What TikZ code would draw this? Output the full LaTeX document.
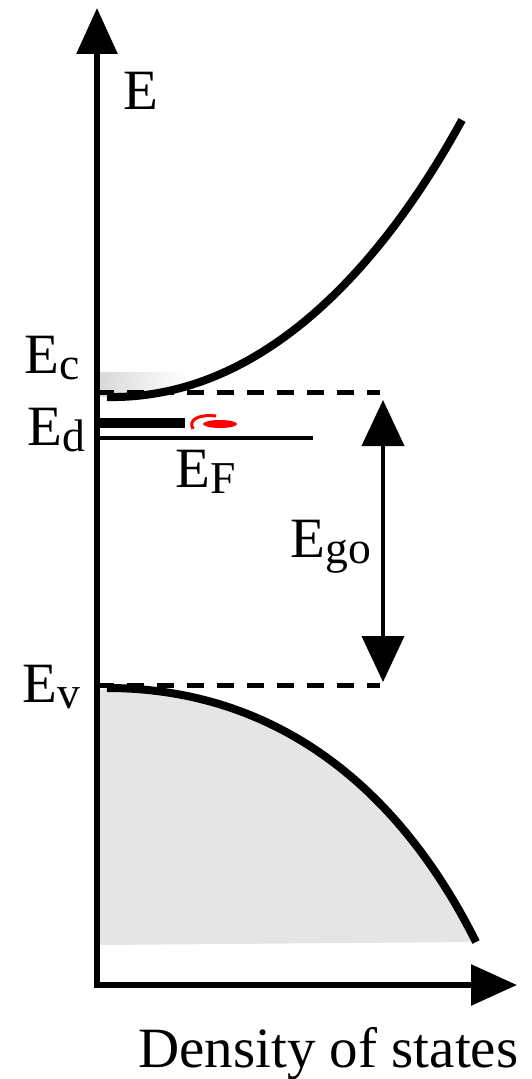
\documentclass[tikz,border=0pt]{standalone}
\usepackage{fontspec}
\setmainfont{Liberation Serif}
\usetikzlibrary{arrows.meta}
\newcommand{\lowsub}[1]{\raisebox{-0.12em}{\scalebox{0.8}{#1}}}

\begin{document}
\begin{tikzpicture}[x=0.5pt, y=-0.5pt, >={Triangle[width=20pt,length=23pt]},
        axis/.style={line width=3pt},
        band/.style={line width=4pt},
        level/.style={line width=2.5pt, dash pattern=on 8.5pt off 6.5pt},
        lbl/.style={font=\fontsize{28.5}{34}\selectfont, inner sep=0pt, anchor=base west}]
        \useasboundingbox (0,0) rectangle (531,1079);

        % Coordinates
        \coordinate (ytop) at (97,8);
        \coordinate (xend) at (517,985);
        \coordinate (ec) at (97,392);
        \coordinate (ecr) at (380,392);
        \coordinate (ev) at (97,685);
        \coordinate (evr) at (380,685);
        \coordinate (ed) at (97,423);
        \coordinate (edr) at (185,423);
        \coordinate (ef) at (97,438);
        \coordinate (efr) at (313,438);
        \coordinate (egotop) at (383,400);
        \coordinate (egobot) at (383,682);

        % Occupied states
        \fill[black!10] (100,690) -- (107,688) .. controls (260,688) and (390,770) .. (476,942) -- (100,945) -- cycle;
        \shade[left color=black!15, right color=white] (100,373) rectangle (185,396);

        % Bands
        \draw[band] (107,397) .. controls (260,400) and (380,270) .. (462,120);
        \draw[band] (107,688) .. controls (260,688) and (390,770) .. (476,942);

        % Levels
        \draw[level] (ec) -- (ecr);
        \draw[level] (ev) -- (evr);
        \draw[line width=5pt] (ed) -- (edr);
        \draw[line width=2pt] (ef) -- (efr);
        \draw[<->, line width=2pt, >={Triangle[width=21pt,length=23pt]}] (egotop) -- (egobot);

        % Mark
        \draw[red, line width=1.5pt] (193,429) .. controls (188,420) and (198,414) .. (216,416);
        \fill[red] (220,424) ellipse (17 and 4);

        % Axes
        \draw[axis, <->] (ytop) |- (xend);

        % Labels
        \node[lbl] (elbl) at (123,110) {E};
        \node[lbl] (eclbl) at (24,373) {E\lowsub{c}};
        \node[lbl] (edlbl) at (27,445) {E\lowsub{d}};
        \node[lbl] (eflbl) at (175,487) {E\lowsub{F}};
        \node[lbl] (egolbl) at (290,557) {E\lowsub{go}};
        \node[lbl] (evlbl) at (22,702) {E\lowsub{v}};
        \node[lbl] (doslbl) at (138,1067) {Density of states};
    \end{tikzpicture}
\end{document}
